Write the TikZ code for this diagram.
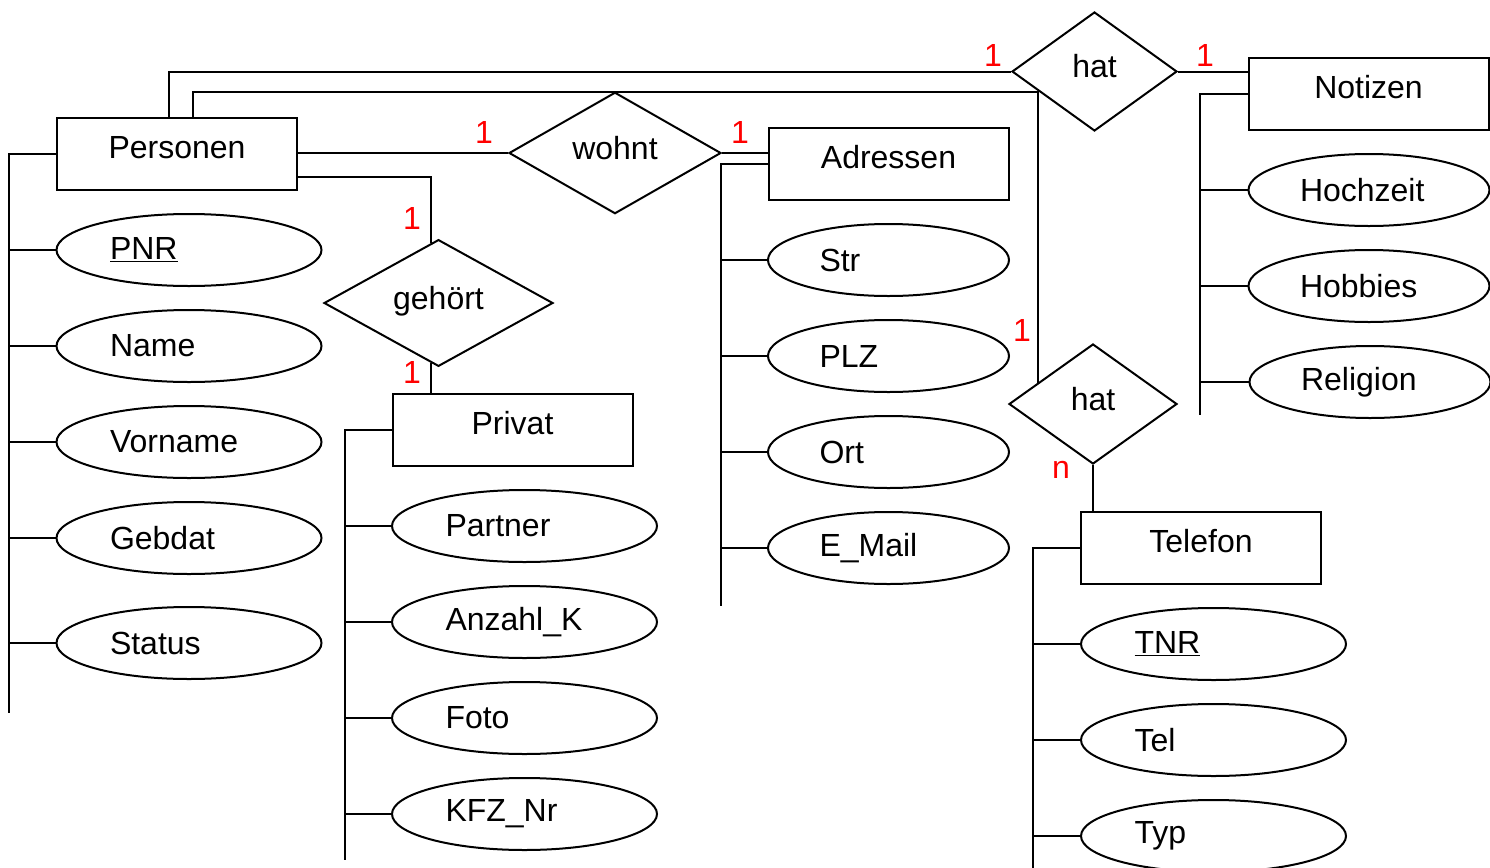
\documentclass[tikz,border=0pt]{standalone}
\usepackage{fontspec}
\setmainfont{Liberation Sans}
\usetikzlibrary{shapes.geometric}
\begin{document}
\begin{tikzpicture}[x=0.5pt,y=-0.5pt,line width=1pt,
  every node/.style={font=\fontsize{16}{19}\selectfont},
  entity/.style={draw,rectangle,minimum width=120pt,minimum height=36pt,inner sep=0pt,text height=12pt,text depth=8pt},
  rel/.style={draw,diamond,inner sep=0pt,text height=12pt,text depth=6pt},
  attr/.style={draw,ellipse,minimum width=132.5pt,minimum height=36pt,inner sep=0pt,text width=79pt,align=left},
  attrk/.style={attr,minimum width=120.5pt,text width=69pt},
  kard/.style={text=red,inner sep=0pt}]
\useasboundingbox (0,0) rectangle (1490,868);
% Entitaeten
\node[entity] (pers) at (177,154) {Personen};
\node[entity] (adr) at (888.5,164) {Adressen};
\node[entity] (priv) at (512.5,430) {Privat};
\node[entity] (notiz) at (1368.5,94) {Notizen};
\node[entity] (tel) at (1201,548) {Telefon};
% Beziehungen
\node[rel,minimum width=106pt,minimum height=60pt] (wohnt) at (615,153) {wohnt};
\node[rel,minimum width=82.5pt,minimum height=59.5pt] (hat1) at (1094.5,71.5) {hat};
\node[rel,minimum width=114.5pt,minimum height=60pt] (geh) at (438.5,303) {gehört};
\node[rel,minimum width=84pt,minimum height=60pt] (hat2) at (1093,404) {hat};
% Attribute
\node[attr] (pnr) at (189,250) {\underline{PNR}};
\node[attr] (name) at (189,346) {Name};
\node[attr] (vorn) at (189,442) {Vorname};
\node[attr] (gebdat) at (189,538) {Gebdat};
\node[attr] (status) at (189,643) {Status};
\node[attr] (partner) at (524.5,526) {Partner};
\node[attr] (anzk) at (524.5,622) {Anzahl\_K};
\node[attr] (foto) at (524.5,718) {Foto};
\node[attr] (kfz) at (524.5,814) {KFZ\_Nr};
\node[attrk] (str) at (888.5,260) {Str};
\node[attrk] (plz) at (888.5,356) {PLZ};
\node[attrk] (ort) at (888.5,452) {Ort};
\node[attrk] (mail) at (888.5,548) {E\_Mail};
\node[attrk] (hochz) at (1369,190) {Hochzeit};
\node[attrk] (hobby) at (1369,286) {Hobbies};
\node[attrk] (relig) at (1370,382) {Religion};
\node[attr] (tnr) at (1213.5,644) {\underline{TNR}};
\node[attr] (telnr) at (1213.5,740) {Tel};
\node[attr] (typ) at (1213.5,836) {Typ};
% Beziehungslinien
\draw (pers.east |- wohnt.west) -- (wohnt.west);
\draw (wohnt.east) -- (adr.west |- wohnt.east);
\draw ([yshift=-11.5pt]pers.east) -| (geh.97);
\draw (geh.-97) -- (geh.-97 |- priv.north);
\draw ([xshift=-4pt]pers.north) |- (hat1.west);
\draw (hat1.east) -- (hat1.east -| notiz.west);
\coordinate (knick) at (hat2.159 |- 0,92);
\draw ([xshift=8pt]pers.north) |- (knick) -- (hat2.159);
\draw (hat2.south) -- (hat2.south |- tel.north);
% Attributlinien
\coordinate (pbus) at (9,713);
\coordinate (vbus) at (345,860);
\coordinate (abus) at (721,606);
\coordinate (nbus) at (1200,415);
\coordinate (tbus) at (1033,868);
\draw (pers.west) -| (pbus);
\draw (priv.west) -| (vbus);
\draw (adr.west) -| (abus);
\draw (notiz.west) -| (nbus);
\draw (tel.west) -| (tbus);
\foreach \a in {pnr,name,vorn,gebdat,status} \draw (\a.west) -- (\a.west -| pbus);
\foreach \a in {partner,anzk,foto,kfz} \draw (\a.west) -- (\a.west -| vbus);
\foreach \a in {str,plz,ort,mail} \draw (\a.west) -- (\a.west -| abus);
\foreach \a in {hochz,hobby,relig} \draw (\a.west) -- (\a.west -| nbus);
\foreach \a in {tnr,telnr,typ} \draw (\a.west) -- (\a.west -| tbus);
% Kardinalitaeten
\node[kard] (k1) at (484,132) {1};
\node[kard] (k2) at (740,132) {1};
\node[kard] (k3) at (412,218) {1};
\node[kard] (k4) at (412,372) {1};
\node[kard] (k5) at (993,55) {1};
\node[kard] (k6) at (1205,55) {1};
\node[kard] (k7) at (1022,330) {1};
\node[kard] (k8) at (1061,470) {n};
\end{tikzpicture}
\end{document}
